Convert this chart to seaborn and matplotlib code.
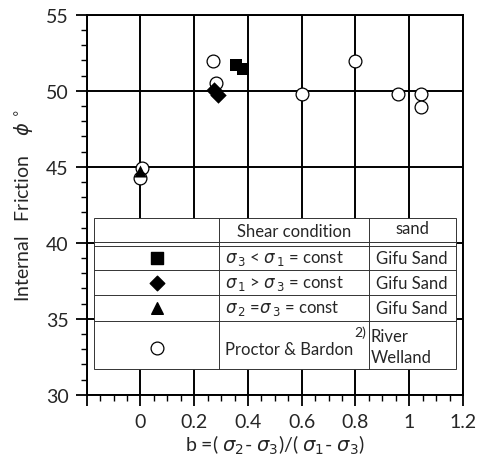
import matplotlib
matplotlib.use("Agg")
import matplotlib.pyplot as plt
from matplotlib.ticker import MultipleLocator, FixedLocator, FixedFormatter
from matplotlib.patches import Rectangle
import seaborn as sns
import pandas as pd

sns.set_theme(style="white")
plt.rcParams['font.family'] = ['Lato', 'DejaVu Sans']
plt.rcParams['mathtext.fontset'] = 'dejavusans'

# data
sq_b = [0.355, 0.38]
sq_phi = [51.7, 51.4]
di_b = [0.275, 0.29]
di_phi = [50.05, 49.75]
tr_b = [0.0]
tr_phi = [44.75]
pb_b = [0.005, 0.0, 0.27, 0.28, 0.6, 0.8, 0.96, 1.045, 1.045]
pb_phi = [44.9, 44.25, 51.95, 50.5, 49.8, 51.95, 49.8, 49.8, 48.9]

xticks = [0, 0.2, 0.4, 0.6, 0.8, 1.0, 1.2]
xticklabels = ["0", "0.2", "0.4", "0.6", "0.8", "1", "1.2"]
yticks = [30, 35, 40, 45, 50, 55]

fig = plt.figure(figsize=(4.83, 4.64), dpi=100)
ax = fig.add_axes([0.1795, 0.147, 0.779, 0.819])

ax.set_xlim(-0.2, 1.2)
ax.set_ylim(30, 55)

# grid
ax.xaxis.set_major_locator(FixedLocator([-0.2] + xticks))
ax.xaxis.set_major_formatter(FixedFormatter([""] + xticklabels))
ax.xaxis.set_minor_locator(MultipleLocator(0.05))
ax.yaxis.set_major_locator(FixedLocator(yticks))
ax.yaxis.set_minor_locator(MultipleLocator(1))
ax.grid(True, which='major', color='black', linewidth=1.4, zorder=0)
ax.set_axisbelow(True)

for s in ax.spines.values():
    s.set_color('black')
    s.set_linewidth(1.4)

ax.tick_params(axis='both', which='major', direction='out', length=8, width=1.3,
               labelsize=14, color='black', bottom=True, left=True, pad=5)
ax.tick_params(axis='both', which='minor', direction='out', length=4, width=1.0,
               color='black', bottom=True, left=True)

# data points
sns.scatterplot(x=pb_b, y=pb_phi, ax=ax, marker='o', s=85, facecolor='white',
                edgecolor='black', linewidth=0.9, zorder=3)
sns.scatterplot(x=sq_b, y=sq_phi, ax=ax, marker='s', s=85, color='black',
                edgecolor='black', linewidth=0, zorder=4)
sns.scatterplot(x=di_b, y=di_phi, ax=ax, marker='D', s=70, color='black',
                edgecolor='black', linewidth=0, zorder=4)
sns.scatterplot(x=tr_b, y=tr_phi, ax=ax, marker='^', s=75, color='black',
                edgecolor='black', linewidth=0, zorder=4)

# legend table
tl, tr_, tc1, tc2 = -0.171, 1.175, 0.293, 0.849
ttop, tbot = 41.6, 31.7
rows = [40.05, 39.8, 38.2, 36.56, 34.85]
ax.add_patch(Rectangle((tl, tbot), tr_ - tl, ttop - tbot, facecolor='white',
                       edgecolor='#333333', linewidth=0.7, zorder=5))
lw = 0.7
for y in rows:
    ax.plot([tl, tr_], [y, y], color='#333333', linewidth=lw, zorder=6)
for x in (tc1, tc2):
    ax.plot([x, x], [tbot, ttop], color='#333333', linewidth=lw, zorder=6)

fs = 12
ax.text((tc1 + tc2) / 2, 40.8, "Shear condition", ha='center', va='center', fontsize=fs, zorder=7)
ax.text((tc2 + tr_) / 2, 40.95, "sand", ha='center', va='center', fontsize=fs, zorder=7)

mx = (tl + tc1) / 2
ax.scatter([mx], [39.0], marker='s', s=70, color='black', zorder=7)
ax.scatter([mx], [37.38], marker='D', s=55, color='black', zorder=7)
ax.scatter([mx], [35.72], marker='^', s=70, color='black', zorder=7)
ax.scatter([mx], [33.1], marker='o', s=85, facecolor='white', edgecolor='black', linewidth=0.9, zorder=7)

cx = 0.315
ax.text(cx, 39.0, r"$\sigma$$_{\,3}$ < $\sigma$$_{\,1}$ = const", ha='left', va='center', fontsize=fs, zorder=7)
ax.text(cx, 37.38, r"$\sigma$$_{\,1}$ > $\sigma$$_{\,3}$ = const", ha='left', va='center', fontsize=fs, zorder=7)
ax.text(cx, 35.72, r"$\sigma$$_{\,2}$ =$\sigma$$_{\,3}$ = const", ha='left', va='center', fontsize=fs, zorder=7)
ax.text(cx, 33.0, "Proctor & Bardon", ha='left', va='center', fontsize=fs, zorder=7)
ax.text(0.84, 34.15, "2)", ha='right', va='center', fontsize=10, zorder=7)

sx = 0.878
for y in (39.0, 37.38, 35.72):
    ax.text(sx, y, "Gifu Sand", ha='left', va='center', fontsize=fs, zorder=7)
ax.text(0.855, 33.88, "River", ha='left', va='center', fontsize=fs, zorder=7)
ax.text(0.855, 32.48, "Welland", ha='left', va='center', fontsize=fs, zorder=7)

ax.set_xlabel(r"b =( $\sigma$$_{2}$- $\sigma$$_{3}$)/( $\sigma$$_{1}$- $\sigma$$_{3}$)", fontsize=14, labelpad=2)
ax.set_ylabel(r"Internal   Friction    $\phi$ $^{\circ}$", fontsize=14, labelpad=8)

fig.savefig("out.png", dpi=100)
